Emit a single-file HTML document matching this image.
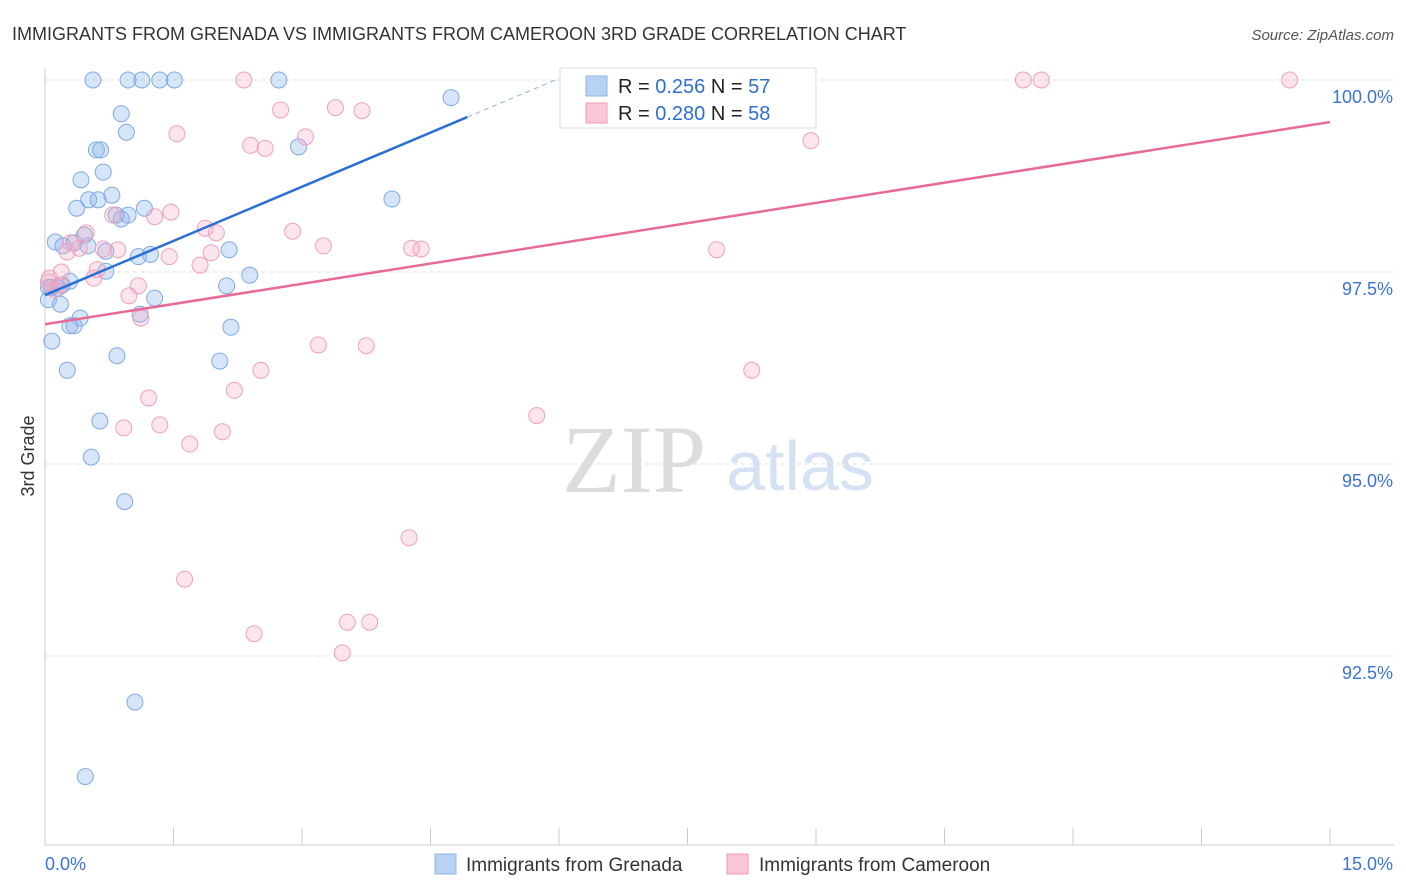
<!DOCTYPE html>
<html><head><meta charset="utf-8"><style>
body{margin:0;background:#fff;font-family:"Liberation Sans",sans-serif;}
#c{position:relative;width:1406px;height:892px;overflow:hidden}
</style></head><body><div id="c">
<svg id="s" width="1406" height="892" xmlns="http://www.w3.org/2000/svg">
<text x="12" y="40" font-size="18" fill="#333">IMMIGRANTS FROM GRENADA VS IMMIGRANTS FROM CAMEROON 3RD GRADE CORRELATION CHART</text>
<text x="1394" y="40" font-size="15" fill="#555" font-style="italic" text-anchor="end">Source: ZipAtlas.com</text>
<text x="634" y="492" font-size="96" fill="#dcdcdc" font-family="Liberation Serif,serif" text-anchor="middle">ZIP</text>
<text x="800" y="490" font-size="70" fill="#d4e2f3" text-anchor="middle">atlas</text>
<text x="34" y="456" font-size="18" fill="#333" text-anchor="middle" transform="rotate(-90 34 456)">3rd Grade</text>
<g id="grid"></g><g id="axes"></g><g id="pts"></g><g id="lines"></g>
<g>
<rect x="560" y="68" width="256" height="60" fill="#fff" stroke="#ddd"/>
<rect x="586" y="76" width="21" height="20" fill="#b8d2f3" stroke="#8db4e8"/>
<rect x="586" y="103" width="21" height="20" fill="#f9c7d6" stroke="#f09ab4"/>
<text x="618" y="93" font-size="20" fill="#222">R = <tspan fill="#2f6fd1">0.256</tspan>   N = <tspan fill="#2f6fd1">57</tspan></text>
<text x="618" y="120" font-size="20" fill="#222">R = <tspan fill="#2f6fd1">0.280</tspan>   N = <tspan fill="#2f6fd1">58</tspan></text>
</g>
<g>
<rect x="435" y="854" width="21" height="20" fill="#b8d2f3" stroke="#8db4e8"/>
<text x="466" y="871" font-size="19" fill="#333">Immigrants from Grenada</text>
<rect x="727" y="854" width="21" height="20" fill="#f9c7d6" stroke="#f09ab4"/>
<text x="759" y="871" font-size="19" fill="#333">Immigrants from Cameroon</text>
</g>
</svg></div>
<script>
const xTickLabels=["0.0%","15.0%"];
const yTicks=[100,97.5,95,92.5];
const yTickLabels=["100.0%","97.5%","95.0%","92.5%"];
const blueX=[0.56,0.97,1.13,1.34,1.51,2.73,4.74,0.89,0.95,0.60,0.65,2.96,0.68,0.42,0.78,0.51,0.62,0.37,1.16,4.05,0.83,0.89,0.12,0.21,0.34,0.50,0.46,0.71,1.23,1.09,2.15,0.71,2.39,0.29,0.07,0.15,2.12,1.28,0.18,0.04,0.41,0.29,0.34,2.17,1.11,0.08,0.84,2.04,0.26,0.64,0.54,0.93,1.05,0.47,0.04,0.20,0.97];
const blueY=[100,100,100,100,100,100,99.77,99.56,99.32,99.09,99.09,99.13,98.80,98.70,98.50,98.44,98.44,98.33,98.33,98.45,98.24,98.19,97.89,97.84,97.88,97.84,97.98,97.77,97.73,97.70,97.79,97.51,97.46,97.38,97.30,97.29,97.32,97.16,97.08,97.14,96.90,96.80,96.80,96.78,96.95,96.60,96.41,96.34,96.22,95.56,95.09,94.51,91.90,90.93,97.30,97.33,98.24];
const pinkX=[2.32,11.42,11.63,14.53,2.75,3.39,3.70,1.54,2.40,2.57,3.04,8.94,1.47,1.28,0.79,1.87,2.00,2.89,0.48,0.30,0.40,0.85,3.25,4.28,4.39,7.84,0.26,1.45,1.94,1.81,0.05,0.19,0.61,0.57,0.11,1.09,0.98,1.12,3.19,3.75,2.52,8.25,2.21,1.21,5.74,0.92,1.34,2.07,1.69,4.25,1.63,3.53,3.79,2.44,3.47,0.18,0.04,0.68];
const pinkY=[100,100,100,100,99.61,99.64,99.60,99.30,99.15,99.11,99.26,99.21,98.28,98.22,98.24,98.07,98.01,98.03,98.01,97.88,97.81,97.79,97.84,97.81,97.80,97.79,97.76,97.70,97.75,97.59,97.42,97.50,97.53,97.42,97.27,97.32,97.19,96.90,96.55,96.54,96.22,96.22,95.96,95.86,95.63,95.47,95.51,95.42,95.26,94.04,93.50,92.94,92.94,92.79,92.54,97.33,97.37,97.80];
const blueTrend=[97.20,0.47];
const pinkTrend=[96.82,0.1755];
const NS="http://www.w3.org/2000/svg";
function sx(v){return 45+v/15*1285;}
function sy(v){return 80+(100-v)*76.8;}
function mk(t,a,p){const e=document.createElementNS(NS,t);for(const k in a)e.setAttribute(k,a[k]);p.appendChild(e);return e;}
const grid=document.getElementById('grid'),axes=document.getElementById('axes'),pts=document.getElementById('pts'),lines=document.getElementById('lines');
yTicks.forEach((t,i)=>{
 const l=mk('line',{x1:45,x2:1394,y1:sy(t),y2:sy(t),stroke:'#ddd','stroke-dasharray':'4,4'},grid);
 
 
 const tx=mk('text',{x:1393,y:sy(t)+23,'font-size':18,fill:'#3b74d1','text-anchor':'end'},axes);
 tx.textContent=yTickLabels[i];
 
 
});
let a=mk('line',{x1:45,x2:45,y1:68,y2:845,stroke:'#ccc'},axes);


a=mk('line',{x1:45,x2:1394,y1:845,y2:845,stroke:'#ccc'},axes);


for(let k=1;k<=10;k++){const tk=mk('line',{x1:sx(k*1.5),x2:sx(k*1.5),y1:828,y2:845,stroke:'#ccc'},axes);
 
 }
let t0=mk('text',{x:45,y:870,'font-size':18,fill:'#3b74d1'},axes);t0.textContent=xTickLabels[0];


let t1=mk('text',{x:1393,y:870,'font-size':18,fill:'#3b74d1','text-anchor':'end'},axes);t1.textContent=xTickLabels[1];


blueX.forEach((x,i)=>{const c=mk('circle',{cx:sx(x),cy:sy(blueY[i]),r:8,fill:'rgba(140,180,235,0.35)',stroke:'#7faae6','stroke-width':1},pts);
 
 });
pinkX.forEach((x,i)=>{const c=mk('circle',{cx:sx(x),cy:sy(pinkY[i]),r:8,fill:'rgba(245,170,195,0.3)',stroke:'#f0a0bb','stroke-width':1},pts);
 
 });
const bEnd=4.93,bDash=6.0;
let ln=mk('line',{x1:sx(0),y1:sy(blueTrend[0]),x2:sx(bEnd),y2:sy(blueTrend[0]+blueTrend[1]*bEnd),stroke:'#2b6fd6','stroke-width':2.5},lines);


ln=mk('line',{x1:sx(bEnd),y1:sy(blueTrend[0]+blueTrend[1]*bEnd),x2:sx(bDash),y2:sy(blueTrend[0]+blueTrend[1]*bDash),stroke:'#8db4e8','stroke-width':1,'stroke-dasharray':'5,4'},lines);


ln=mk('line',{x1:sx(0),y1:sy(pinkTrend[0]),x2:sx(15),y2:sy(pinkTrend[0]+pinkTrend[1]*15),stroke:'#e86a98','stroke-width':2.5},lines);


</script></body></html>
